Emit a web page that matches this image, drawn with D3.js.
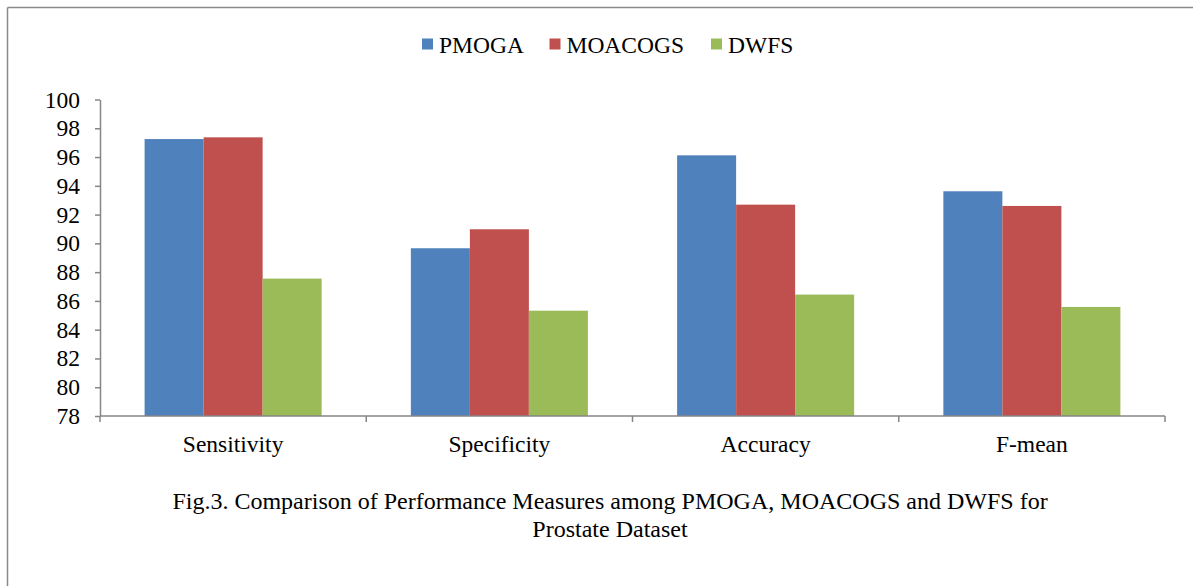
<!DOCTYPE html>
<html>
<head>
<meta charset="utf-8">
<script src="https://cdn.jsdelivr.net/npm/d3@7"></script>
<style>
  html, body { margin: 0; padding: 0; background: #fff; }
  svg { display: block; }
</style>
</head>
<body>
<svg id="chart" width="1193" height="586" style="font-family: 'Liberation Serif'"></svg>
<script>
const categories = ["Sensitivity", "Specificity", "Accuracy", "F-mean"];
const seriesNames = ["PMOGA", "MOACOGS", "DWFS"];
const pmoga   = [97.25, 89.66, 96.12, 93.62];
const moacogs = [97.37, 90.98, 92.69, 92.60];
const dwfs    = [87.55, 85.32, 86.44, 85.58];
const yTicks  = [78, 80, 82, 84, 86, 88, 90, 92, 94, 96, 98, 100];
const colors  = ["#4F81BD", "#C0504D", "#9BBB59"];
const captionLines = ["Fig.3. Comparison of Performance Measures among PMOGA, MOACOGS and DWFS for", "Prostate Dataset"];

const seriesValues = [pmoga, moacogs, dwfs];
const svg = d3.select("#chart");
const W = 1193, H = 586;
const axisColor = "#868686";
const fontSize = 23.5;
const FONT = "Liberation Serif";

function styleText(sel, size) {
  return sel.style("font-family", FONT).attr("font-family", FONT).attr("font-size", size || fontSize).style("fill", "#000");
}

// frame
svg.append("line").attr("x1", 7.5).attr("x2", W).attr("y1", 7.5).attr("y2", 7.5)
  .attr("stroke", "#8a8a8a").attr("stroke-width", 1.5);
svg.append("line").attr("x1", 7.5).attr("x2", 7.5).attr("y1", 7.5).attr("y2", H)
  .attr("stroke", "#8a8a8a").attr("stroke-width", 1.5);

const x0 = d3.scaleBand().domain(categories).range([100, 1165]).paddingInner(0).paddingOuter(0);
const x1 = d3.scaleBand().domain(seriesNames).range([0, x0.bandwidth()]).paddingInner(0).paddingOuter(0.756);
const y = d3.scaleLinear().domain([78, 100]).range([416, 99.5]);

// bars
const groups = svg.append("g").selectAll("g").data(categories).join("g")
  .attr("transform", d => `translate(${x0(d)},0)`);
groups.selectAll("rect")
  .data((c, ci) => seriesNames.map((s, si) => ({ s, si, v: seriesValues[si][ci] })))
  .join("rect")
  .attr("x", d => x1(d.s))
  .attr("width", x1.bandwidth())
  .attr("y", d => y(d.v))
  .attr("height", d => y(78) - y(d.v))
  .attr("fill", d => colors[d.si]);

// y axis
const yAxis = svg.append("g").attr("transform", "translate(100,0)")
  .call(d3.axisLeft(y).tickValues(yTicks).tickSize(5).tickPadding(15).tickSizeOuter(0));
yAxis.attr("font-family", null).attr("font-size", null);
yAxis.select(".domain").attr("stroke", axisColor).attr("stroke-width", 1.5);
yAxis.selectAll(".tick line").attr("stroke", axisColor).attr("stroke-width", 1.5);
styleText(yAxis.selectAll(".tick text"));

// x axis
const xAxisG = svg.append("g").attr("transform", "translate(0,416)");
xAxisG.append("line").attr("x1", 100).attr("x2", 1165).attr("y1", 0).attr("y2", 0)
  .attr("stroke", axisColor).attr("stroke-width", 1.5);
const boundaries = categories.map(c => x0(c)).concat([x0(categories[categories.length - 1]) + x0.bandwidth()]);
xAxisG.selectAll("line.tk").data(boundaries).join("line").attr("class", "tk")
  .attr("x1", d => d).attr("x2", d => d).attr("y1", 0).attr("y2", 6)
  .attr("stroke", axisColor).attr("stroke-width", 1.5);
styleText(xAxisG.selectAll("text").data(categories).join("text")
  .attr("x", d => x0(d) + x0.bandwidth() / 2).attr("y", 36)
  .attr("text-anchor", "middle")
  .text(d => d));

// legend
const legendX = [422, 549.5, 711];
const legend = svg.append("g");
seriesNames.forEach((s, i) => {
  legend.append("rect").attr("x", legendX[i]).attr("y", 38.5).attr("width", 11).attr("height", 11)
    .attr("fill", colors[i]);
  styleText(legend.append("text").attr("x", legendX[i] + 17).attr("y", 52.5).text(s));
});

// caption
styleText(svg.selectAll("text.cap").data(captionLines).join("text").attr("class", "cap")
  .attr("x", 610).attr("y", (d, i) => 508.5 + i * 28)
  .attr("text-anchor", "middle")
  .text(d => d), 24);
</script>
</body>
</html>
